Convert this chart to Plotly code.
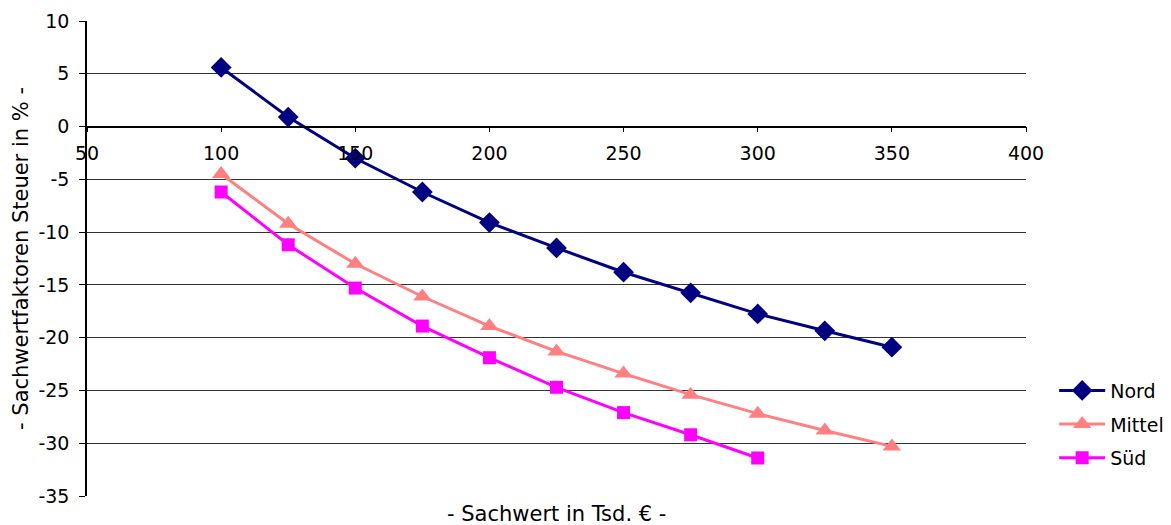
import plotly.graph_objects as go

# Sachwert in Tsd. EUR
sachwert = [100, 125, 150, 175, 200, 225, 250, 275, 300, 325, 350]

# Sachwertfaktoren Steuer in % per region
nord = [5.6, 0.9, -3.0, -6.2, -9.1, -11.5, -13.8, -15.75, -17.75, -19.35, -20.9]
mittel = [-4.5, -9.2, -13.0, -16.1, -18.9, -21.3, -23.4, -25.4, -27.2, -28.8, -30.3]
sued = [-6.2, -11.2, -15.3, -18.9, -21.9, -24.7, -27.1, -29.2, -31.4]

x_ticks = [50, 100, 150, 200, 250, 300, 350, 400]
y_ticks = [10, 5, 0, -5, -10, -15, -20, -25, -30, -35]

FONT = "DejaVu Sans"
y_min, y_max = -35, 10

fig = go.Figure()
fig.add_trace(go.Scatter(
    x=sachwert, y=nord, name="Nord", mode="lines+markers", legendgroup="n",
    line=dict(color="#000080", width=3),
    marker=dict(symbol="diamond", size=16, color="#000080"),
))
fig.add_trace(go.Scatter(
    x=sachwert, y=mittel, name="Mittel", mode="lines+markers", legendgroup="m",
    line=dict(color="#FF8080", width=3),
    marker=dict(symbol="triangle-up", size=16, color="#FF8080"),
))
fig.add_trace(go.Scatter(
    x=sachwert[:len(sued)], y=sued, name="Süd", mode="lines+markers", legendgroup="s",
    line=dict(color="#FF00FF", width=3),
    marker=dict(symbol="square", size=13, color="#FF00FF"),
))

# x axis crosses the y axis at value 0
zero_pos = (0 - y_min) / (y_max - y_min)

fig.update_layout(
    width=1171, height=525,
    margin=dict(l=87, r=145, t=21, b=29, autoexpand=False),
    paper_bgcolor="white", plot_bgcolor="white",
    font=dict(family=FONT, size=19, color="black"),
    showlegend=True,
    legend=dict(
        x=1.03, y=0.262, xanchor="left", yanchor="top",
        font=dict(family=FONT, size=19, color="black"),
        bgcolor="rgba(0,0,0,0)", itemwidth=46, tracegroupgap=6,
    ),
    xaxis=dict(
        range=[50, 400], tickvals=x_ticks, ticktext=[str(v) for v in x_ticks],
        anchor="free", position=zero_pos,
        showline=True, linecolor="black", linewidth=1.5,
        ticks="outside", ticklen=5, tickcolor="black",
        ticklabelstandoff=5,
        showgrid=False, zeroline=False,
        tickfont=dict(family=FONT, size=19, color="black"),
    ),
    yaxis=dict(
        range=[y_min, y_max], tickvals=y_ticks, ticktext=[str(v) for v in y_ticks],
        showline=True, linecolor="black", linewidth=1.5,
        ticks="outside", ticklen=6, tickcolor="black",
        ticklabelstandoff=6,
        showgrid=True, gridcolor="#333333", gridwidth=1,
        zeroline=False,
        tickfont=dict(family=FONT, size=19, color="black"),
        title=dict(text="- Sachwertfaktoren Steuer in % -",
                   font=dict(family=FONT, size=21, color="black"), standoff=4),
    ),
    annotations=[dict(
        text="- Sachwert in Tsd. € -", xref="paper", yref="paper",
        x=0.5, y=-29 / 475, xanchor="center", yanchor="bottom", yshift=-3,
        showarrow=False,
        font=dict(family=FONT, size=21, color="black"),
    )],
)

fig.write_html("out.html")
